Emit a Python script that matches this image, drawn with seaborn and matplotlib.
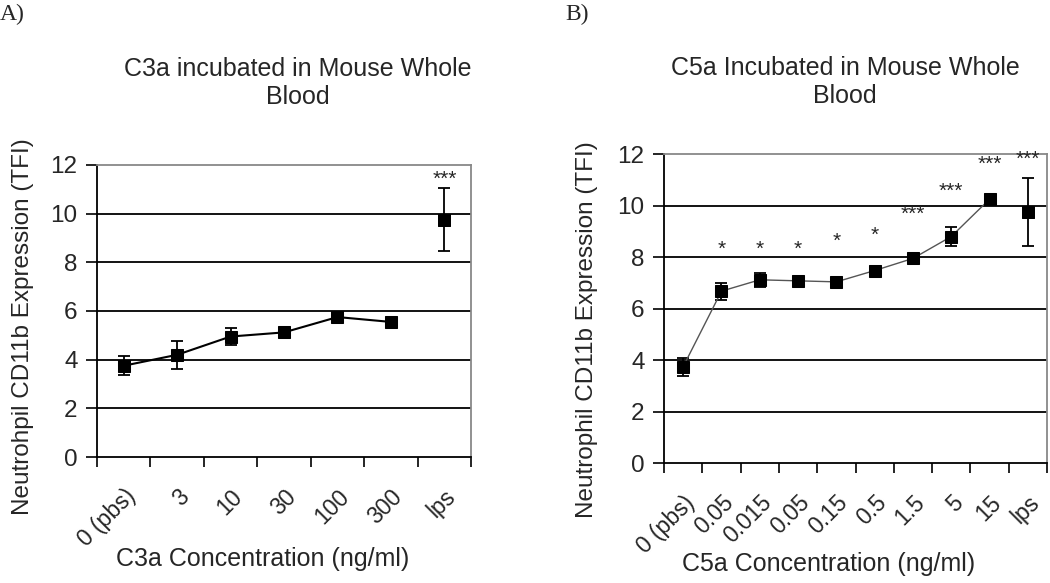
import numpy as np
import pandas as pd
import seaborn as sns
import matplotlib.pyplot as plt

# Panel A - C3a
c3a_labels = ["0 (pbs)", "3", "10", "30", "100", "300", "lps"]
c3a_mean = [3.75, 4.2, 4.95, 5.12, 5.75, 5.55, 9.75]
c3a_err = [0.38, 0.57, 0.35, 0.12, 0.15, 0.1, 1.3]
c3a_stars = ["", "", "", "", "", "", "***"]
c3a_star_y = [0, 0, 0, 0, 0, 0, 11.4]

# Panel B - C5a
c5a_labels = ["0 (pbs)", "0.05", "0.015", "0.05", "0.15", "0.5", "1.5", "5", "15", "lps"]
c5a_mean = [3.75, 6.68, 7.12, 7.08, 7.04, 7.48, 7.95, 8.8, 10.25, 9.75]
c5a_err = [0.35, 0.33, 0.26, 0.12, 0.1, 0.12, 0.15, 0.35, 0.1, 1.32]
c5a_stars = ["", "*", "*", "*", "*", "*", "***", "***", "***", "***"]
c5a_star_y = [0, 8.3, 8.3, 8.3, 8.6, 8.85, 9.65, 10.55, 11.6, 11.8]

sns.set_style("white")
plt.rcParams['font.family'] = ['Liberation Sans', 'DejaVu Sans']

fig = plt.figure(figsize=(10.5, 5.83), dpi=100)
axA = fig.add_axes([0.0924, 0.2161, 0.3562, 0.501])
axB = fig.add_axes([0.6324, 0.2053, 0.3648, 0.5305])


def draw_panel(ax, labels, mean, err, stars, star_y, line_color, line_w):
    n = len(labels)
    df = pd.DataFrame({"pos": np.arange(n), "mean": mean, "err": err,
                       "label": labels, "star": stars, "star_y": star_y})
    conn = df[df["label"] != "lps"]
    last = df[df["label"] == "lps"]

    # horizontal gridlines
    for yv in [2, 4, 6, 8, 10]:
        ax.axhline(yv, color="black", lw=1.3, zorder=1)

    ax.errorbar(df["pos"], df["mean"], yerr=df["err"], fmt="none",
                ecolor="black", elinewidth=1.3, capsize=4.5, capthick=1.3, zorder=3)
    sns.lineplot(data=conn, x="pos", y="mean", ax=ax, color=line_color, lw=line_w,
                 marker="s", markersize=9, markerfacecolor="black",
                 markeredgecolor="black", zorder=4, sort=False)
    sns.scatterplot(data=last, x="pos", y="mean", ax=ax, marker="s", s=80,
                    color="black", edgecolor="black", zorder=4)

    for _, r in df.iterrows():
        if r["star"]:
            ax.text(r["pos"], r["star_y"], r["star"], ha="center", va="center",
                    fontsize=15, zorder=5)

    ax.set_xlim(-0.5, n - 0.5)
    ax.set_ylim(0, 12)
    ax.set_yticks(range(0, 13, 2))
    ax.set_xticks(np.arange(-0.5, n, 1.0))
    ax.set_xticklabels([])
    ax.set_xticks(np.arange(n), minor=True)
    ax.set_xticklabels(labels, minor=True, rotation=45, ha="right",
                       rotation_mode="anchor", fontsize=16.5)
    ax.tick_params(axis="x", which="major", direction="out", length=7,
                   width=1.2, color="black", bottom=True)
    ax.tick_params(axis="x", which="minor", length=0, pad=20)
    ax.tick_params(axis="y", direction="out", length=8, width=1.2,
                   color="black", left=True, labelsize=17.5, pad=6)
    ax.set_xlabel("")
    ax.set_ylabel("")
    for side in ["left", "bottom"]:
        ax.spines[side].set_color("black")
        ax.spines[side].set_linewidth(1.3)
    for side in ["top", "right"]:
        ax.spines[side].set_color("#888888")
        ax.spines[side].set_linewidth(1.3)


draw_panel(axA, c3a_labels, c3a_mean, c3a_err, c3a_stars, c3a_star_y, "black", 1.5)
draw_panel(axB, c5a_labels, c5a_mean, c5a_err, c5a_stars, c5a_star_y, "#555555", 1.0)

fig.text(0.0, 0.976, "A)", family=["Liberation Serif"], fontsize=17, ha="left", va="center")
fig.text(0.538, 0.976, "B)", family=["Liberation Serif"], fontsize=17, ha="left", va="center")

fig.text(0.284, 0.858, "C3a incubated in Mouse Whole\nBlood", fontsize=18,
         ha="center", va="center", linespacing=1.2)
fig.text(0.805, 0.860, "C5a Incubated in Mouse Whole\nBlood", fontsize=18,
         ha="center", va="center", linespacing=1.2)

fig.text(0.022, 0.44, "Neutrohpil CD11b Expression (TFI)", rotation=90,
         fontsize=17.5, ha="center", va="center")
fig.text(0.559, 0.434, "Neutrophil CD11b Expression (TFI)", rotation=90,
         fontsize=17.5, ha="center", va="center")

fig.text(0.25, 0.041, "C3a Concentration (ng/ml)", fontsize=18, ha="center", va="center")
fig.text(0.789, 0.033, "C5a Concentration (ng/ml)", fontsize=18, ha="center", va="center")

fig.savefig("out.png", dpi=100)
